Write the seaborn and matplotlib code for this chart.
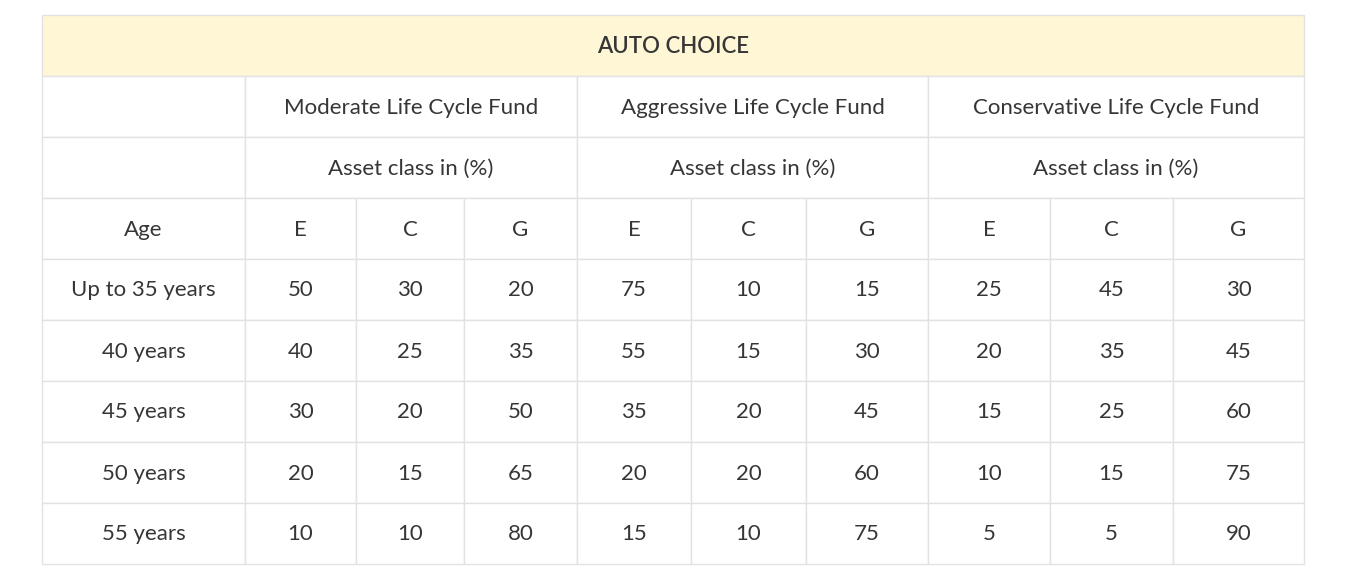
import numpy as np
import matplotlib
matplotlib.use("Agg")
import matplotlib.pyplot as plt
import matplotlib.patches as mpatches
import seaborn as sns

# table content
title = "AUTO CHOICE"
funds = ["Moderate Life Cycle Fund", "Aggressive Life Cycle Fund", "Conservative Life Cycle Fund"]
sub_header = "Asset class in (%)"
asset_classes = ["E", "C", "G"]
ages = ["Up to 35 years", "40 years", "45 years", "50 years", "55 years"]

moderate = [[50, 30, 20], [40, 25, 35], [30, 20, 50], [20, 15, 65], [10, 10, 80]]
aggressive = [[75, 10, 15], [55, 15, 30], [35, 20, 45], [20, 20, 60], [15, 10, 75]]
conservative = [[25, 45, 30], [20, 35, 45], [15, 25, 60], [10, 15, 75], [5, 5, 90]]

# layout (pixels)
col_edges = [42, 245, 356, 464, 577, 691, 806, 928, 1050, 1173, 1304]
row_top = 15
row_h = 61
n_rows = 9

sns.set_style("white")
plt.rcParams["font.family"] = ["Lato", "DejaVu Sans"]

W, H = 1367, 588
fig = plt.figure(figsize=(W / 100, H / 100), dpi=100)
ax = fig.add_axes([0, 0, 1, 1])
ax.set_xlim(0, W)
ax.set_ylim(H, 0)
ax.axis("off")

line_c = "#e2e2e2"
text_c = "#363636"
fs = 16

def row_y(i):
    return row_top + i * row_h

def cell(x0, x1, r, txt, bg="white", weight="normal"):
    y0 = row_y(r)
    ax.add_patch(mpatches.Rectangle((x0, y0), x1 - x0, row_h, facecolor=bg,
                                    edgecolor=line_c, linewidth=1.0))
    if txt != "":
        ax.text((x0 + x1) / 2, y0 + row_h / 2 + 1, txt, ha="center", va="center",
                fontsize=fs, color=text_c, fontweight=weight)

# title row
cell(col_edges[0], col_edges[-1], 0, title, bg="#fff6d5", weight="semibold")

# fund names and sub header
cell(col_edges[0], col_edges[1], 1, "")
cell(col_edges[0], col_edges[1], 2, "")
for k, f in enumerate(funds):
    x0 = col_edges[1 + 3 * k]
    x1 = col_edges[4 + 3 * k]
    cell(x0, x1, 1, f)
    cell(x0, x1, 2, sub_header)

# asset class row
cell(col_edges[0], col_edges[1], 3, "Age")
for k in range(3):
    for j, a in enumerate(asset_classes):
        cell(col_edges[1 + 3 * k + j], col_edges[2 + 3 * k + j], 3, a)

# data rows
for i, age in enumerate(ages):
    r = 4 + i
    cell(col_edges[0], col_edges[1], r, age)
    vals = moderate[i] + aggressive[i] + conservative[i]
    for j, v in enumerate(vals):
        cell(col_edges[1 + j], col_edges[2 + j], r, str(v))

fig.savefig("out.png", dpi=100, facecolor="white")
